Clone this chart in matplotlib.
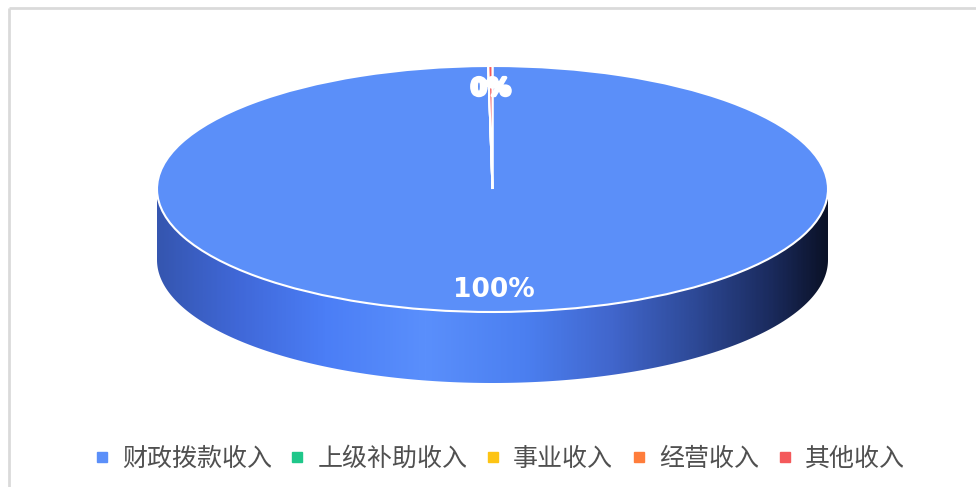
import numpy as np
import matplotlib
matplotlib.use("Agg")
import matplotlib.pyplot as plt
import matplotlib.patheffects as pe
from matplotlib.colors import LinearSegmentedColormap
from matplotlib.patches import Polygon
from matplotlib.lines import Line2D

plt.rcParams['font.family'] = ['Noto Sans CJK SC', 'DejaVu Sans']

# data
categories = ["财政拨款收入", "上级补助收入", "事业收入", "经营收入", "其他收入"]
values = [99.8, 0, 0, 0, 0.2]
colors = ["#5B8FF9", "#1FC78A", "#FDC414", "#FF7D3B", "#F4595B"]

fig = plt.figure(figsize=(9.76, 4.87), dpi=100)

# background axes in pixel coordinates (frame + pie side)
bg = fig.add_axes([0, 0, 1, 1])
bg.set_xlim(0, 976)
bg.set_ylim(487, 0)
bg.axis("off")

# light frame at top and left
bg.plot([9, 9], [8, 487], color="#dadada", lw=2, solid_capstyle="butt")
bg.plot([9, 976], [8, 8], color="#dadada", lw=2, solid_capstyle="butt")

# ellipse geometry (pixels)
cx, cy, rx, ry, depth = 492.5, 189, 335.5, 123, 71

# side of the cylinder with a horizontal gradient
t = np.linspace(0, np.pi, 200)
top_x = cx + rx * np.cos(t)
top_y = cy + ry * np.sin(t)
side = np.vstack([np.column_stack([top_x, top_y]),
                  np.column_stack([top_x[::-1], top_y[::-1] + depth])])
clip = Polygon(side, closed=True, facecolor="none", edgecolor="none")
bg.add_patch(clip)

side_cmap = LinearSegmentedColormap.from_list("side", [
    (0.00, "#3556b0"),
    (0.12, "#4068d8"),
    (0.25, "#4b7ef6"),
    (0.40, "#5a8ffc"),
    (0.55, "#4b7ff0"),
    (0.68, "#4166cc"),
    (0.80, "#2e4a98"),
    (0.92, "#1a2a5c"),
    (1.00, "#0b1228"),
])
grad = np.linspace(0, 1, 400).reshape(1, -1)
img = bg.imshow(grad, cmap=side_cmap, aspect="auto",
                extent=[cx - rx, cx + rx, cy + ry + depth, cy - 2],
                interpolation="bilinear")
img.set_clip_path(clip)

# top face: pie in its own axes, squashed to an ellipse
pax = fig.add_axes([(cx - rx) / 976, (487 - (cy + ry)) / 487,
                    2 * rx / 976, 2 * ry / 487])
wedges, texts, autotexts = pax.pie(
    values, colors=colors, startangle=90, counterclock=False, radius=1,
    autopct=lambda p: "" if p == 0 else f"{p:.0f}%", pctdistance=0.82,
    wedgeprops=dict(edgecolor="white", linewidth=1.5))
pax.set_aspect("auto")
pax.set_xlim(-1, 1)
pax.set_ylim(-1, 1)
pax.axis("off")

for v, at in zip(values, autotexts):
    if v == 0:
        continue
    at.set_color("white")
    at.set_fontfamily("DejaVu Sans")
    at.set_fontweight("bold")
    if v > 50:
        at.set_fontsize(19)
    else:
        at.set_fontsize(17)
        at.set_path_effects([pe.withStroke(linewidth=2.5, foreground="white")])

handles = [Line2D([], [], ls="none", marker="s", markersize=6.5,
                  markerfacecolor=c, markeredgecolor=c) for c in colors]
leg = fig.legend(handles, categories, loc="center", ncol=5,
                 bbox_to_anchor=(0.513, 0.057), frameon=False,
                 fontsize=18, handlelength=0.4,
                 handletextpad=0.6, columnspacing=0.83,
                 labelcolor="#505050")

fig.savefig("out.png", dpi=100)
